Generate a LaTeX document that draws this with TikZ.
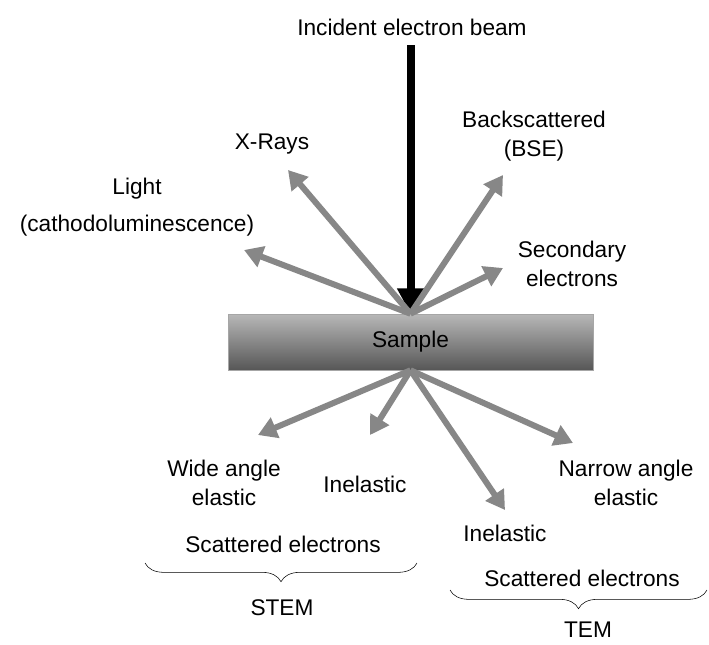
\documentclass[tikz,border=0pt]{standalone}
\usepackage{fontspec}
\setmainfont{Liberation Sans}
\usetikzlibrary{arrows.meta,decorations.pathreplacing}
\begin{document}
\begin{tikzpicture}[
        x = 0.75pt, y = -0.75pt,
        font = \fontsize{17}{21.5}\selectfont,
        lbl/.style = {
            align = center,
            inner sep = 0pt,
        },
        ray/.style = {
            draw = black!47, line width = 4.5pt,
            -{Triangle[length=14pt, width=16pt]},
        },
        beamline/.style = {
            draw = black, line width = 6pt,
            -{Triangle[length=19pt, width=19pt]},
        },
        samplebox/.style = {
            draw = black!35, thin,
            top color = black!28, bottom color = black!66,
            minimum width = 273.75pt, minimum height = 42pt,
        },
        bracket/.style = {
            draw, thin,
            decorate, decoration = {brace, mirror, amplitude = 14pt},
        },
    ]
    \useasboundingbox (0,0) rectangle (709,644);

    \node[samplebox] (sample) at (410.5,342) {Sample};

    % incident beam
    \node[lbl] (beamlbl) at (412,27) {Incident electron beam};
    \coordinate (beamtop) at (410.5,45);
    \draw[beamline] (beamtop) -- (sample.north);

    % signals above the sample
    \node[lbl] (light)     at (137,207) {Light\\[6pt](cathodoluminescence)};
    \node[lbl] (xrays)     at (272,144) {X-Rays};
    \node[lbl] (bse)       at (534,136) {Backscattered\\(BSE)};
    \node[lbl] (secondary) at (572,264) {Secondary\\electrons};

    \coordinate (lightend) at (244,250);
    \coordinate (xraysend) at (288,170);
    \coordinate (bseend)   at (503,175);
    \coordinate (secend)   at (503,268);

    \draw[ray] (sample.north) -- (lightend);
    \draw[ray] (sample.north) -- (xraysend);
    \draw[ray] (sample.north) -- (bseend);
    \draw[ray] (sample.north) -- (secend);

    % transmitted electrons
    \node[lbl] (wide)   at (224,483) {Wide angle\\elastic};
    \node[lbl] (inell)  at (365,484) {Inelastic};
    \node[lbl] (inelr)  at (505,533) {Inelastic};
    \node[lbl] (narrow) at (626,483) {Narrow angle\\elastic};

    \coordinate (wideend)   at (258,435);
    \coordinate (inellend)  at (370,435);
    \coordinate (inelrend)  at (505,510);
    \coordinate (narrowend) at (573,443);

    \draw[ray] (sample.south) -- (wideend);
    \draw[ray] (sample.south) -- (inellend);
    \draw[ray] (sample.south) -- (inelrend);
    \draw[ray] (sample.south) -- (narrowend);

    % detectors
    \node[lbl] (stemsc) at (283,544) {Scattered electrons};
    \coordinate (stemleft)  at (145,563);
    \coordinate (stemright) at (417,563);
    \draw[bracket] (stemleft) -- (stemright);
    \node[lbl] (stem) at (282,608) {STEM};

    \node[lbl] (temsc) at (582,578) {Scattered electrons};
    \coordinate (temleft)  at (450,590);
    \coordinate (temright) at (707,590);
    \draw[bracket] (temleft) -- (temright);
    \node[lbl] (tem) at (588,630) {TEM};
\end{tikzpicture}
\end{document}
